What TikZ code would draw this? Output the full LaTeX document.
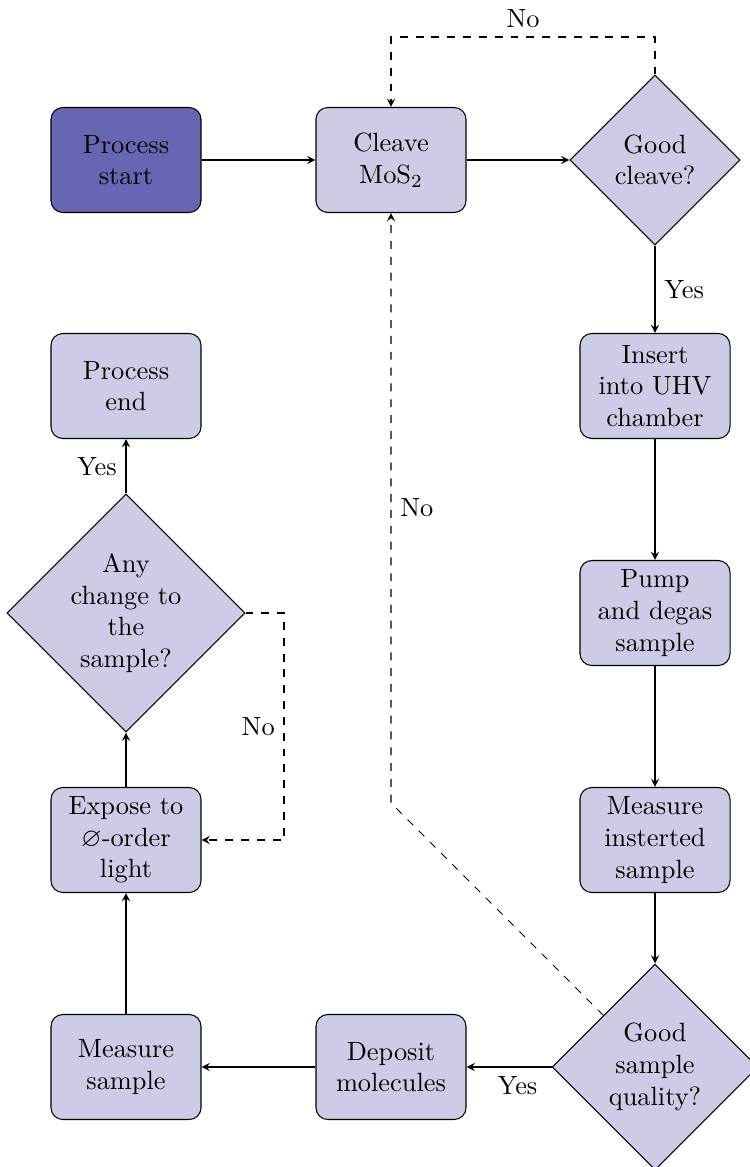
\documentclass[tikz,border=0pt]{standalone}
\usepackage{amssymb}
\usetikzlibrary{shapes.geometric}
\definecolor{lightfill}{RGB}{204,204,230}
\definecolor{darkfill}{RGB}{102,102,178}
\begin{document}
\begin{tikzpicture}[x=0.3793pt,y=-0.3793pt,
  proc/.style={draw, rounded corners=4.5pt, fill=lightfill, minimum width=2cm, minimum height=1.4cm, align=center, inner sep=2pt},
  dec/.style={draw, diamond, aspect=1, fill=lightfill, align=center, inner sep=0pt},
  arr/.style={-stealth},
  dasharr/.style={dashed,-stealth}]
\useasboundingbox (0,0) rectangle (749,1167);
% nodes
\node[proc, fill=darkfill] (start) at (126,160) {Process\\start};
\node[proc] (cleave) at (391,160) {Cleave\\MoS$_2$};
\node[dec, minimum width=64.5pt, minimum height=64.5pt] (gc) at (655,160) {Good\\cleave?};
\node[proc] (insert) at (655,386) {Insert\\into UHV\\chamber};
\node[proc] (pump) at (655,613) {Pump\\and degas\\sample};
\node[proc] (meas) at (655,840) {Measure\\insterted\\sample};
\node[dec, minimum width=78.1pt, minimum height=78.1pt] (qual) at (655,1067) {Good\\sample\\quality?};
\node[proc] (dep) at (391,1067) {Deposit\\molecules};
\node[proc] (msamp) at (126,1067) {Measure\\sample};
\node[proc] (expose) at (126,840) {Expose to\\$\varnothing$-order\\light};
\node[dec, minimum width=90.3pt, minimum height=90.3pt] (any) at (126,613) {Any\\change to\\the\\sample?};
\node[proc] (end) at (126,386) {Process\\end};
% helper coordinates
\coordinate (topc) at (523,37);
\coordinate (rx) at (284,700);
\coordinate (bend) at (391,803);
% connectors
\draw[arr] (start) -- (cleave);
\draw[arr] (cleave) -- (gc);
\draw[arr] (gc) -- node[right]{Yes} (insert);
\draw[dasharr] (gc.north) -- (gc.north |- topc) -- node[above]{No} (cleave.north |- topc) -- (cleave.north);
\draw[arr] (insert) -- (pump);
\draw[arr] (pump) -- (meas);
\draw[arr] (meas) -- (qual);
\draw[arr] (qual) -- node[below, pos=0.4]{Yes} (dep);
\draw[dasharr] (qual) -- (bend) -- node[right]{No} (cleave.south);
\draw[arr] (dep) -- (msamp);
\draw[arr] (msamp) -- (expose);
\draw[arr] (expose) -- (any);
\draw[arr] (any) -- node[left]{Yes} (end);
\draw[dasharr] (any.east) -- (any.east -| rx) -- node[left]{No} (expose.east -| rx) -- (expose.east);
\end{tikzpicture}
\end{document}
